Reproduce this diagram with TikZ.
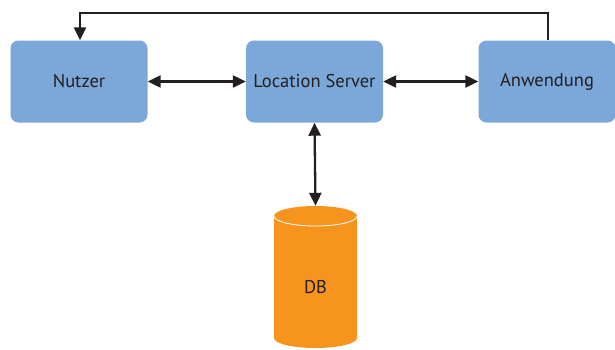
\documentclass[tikz,border=0pt]{standalone}
\usepackage{fontspec}
\setmainfont{PT Sans}
\usetikzlibrary{arrows.meta}
\definecolor{boxblue}{RGB}{123,167,217}
\definecolor{dborange}{RGB}{247,148,29}
\definecolor{ink}{RGB}{35,31,32}
\tikzset{
  boxnode/.style={fill=boxblue, rounded corners=8pt, minimum width=137pt, minimum height=82pt, inner sep=0pt, text=ink, font=\fontsize{18.5}{22}\selectfont},
  conn/.style={draw=ink, line width=2.3pt, -{Triangle[length=13pt,width=12pt]}},
  biconn/.style={draw=ink, line width=2.3pt, {Triangle[length=13pt,width=12pt]}-{Triangle[length=13pt,width=12pt]}},
}
\begin{document}
\begin{tikzpicture}[x=1pt,y=1pt]
\useasboundingbox (0,0) rectangle (615,-349);
\node[boxnode] (nutzer) at (79,-81.5) {Nutzer};
\node[boxnode] (ls) at (314.5,-81.5) {Location Server};
\node[boxnode] (anw) at (547,-81.5) {Anwendung};
% database cylinder
\node[minimum width=83pt, minimum height=142pt, inner sep=0pt] (db) at (315.5,-277) {};
\fill[dborange] (274,-338) arc[start angle=180,end angle=360,x radius=41.5pt,y radius=10pt]
  -- (357,-216) arc[start angle=0,end angle=180,x radius=41.5pt,y radius=10pt] -- cycle;
\draw[white, line width=0.8pt] (274,-216) arc[start angle=180,end angle=360,x radius=41.5pt,y radius=10pt];
\node[text=ink, font=\fontsize{18.5}{22}\selectfont] (dbtext) at (315.5,-287) {DB};
% connectors
\draw[biconn] (nutzer.east) -- (ls.west);
\draw[biconn] (ls.east) -- (anw.west);
\draw[biconn] (ls.south) -- (db.north);
\coordinate (c1) at (548,-13);
\coordinate (c2) at (80,-13);
\draw[conn] ([xshift=1pt]anw.north) -- (c1) -- (c2) -- ([xshift=1pt]nutzer.north);
\end{tikzpicture}
\end{document}
